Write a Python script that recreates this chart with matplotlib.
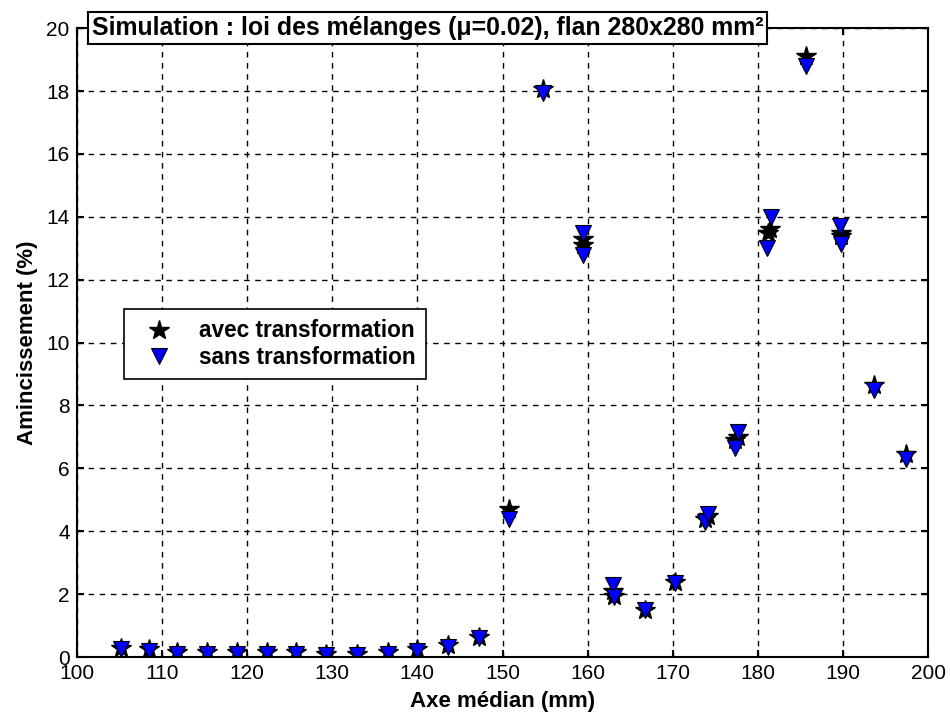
import matplotlib.pyplot as plt
import numpy as np

# star series: avec transformation
x_avec = [105.2, 108.5, 111.8, 115.3, 118.8, 122.3, 125.8, 129.3, 132.9, 136.5, 140.0, 143.6, 147.2,
          150.8, 154.8, 159.4, 159.5, 163.0, 163.1, 166.7, 170.2, 173.8, 174.1, 177.3, 177.6,
          181.2, 181.4, 185.6, 189.7, 189.8, 193.6, 197.4]
y_avec = [0.3, 0.25, 0.15, 0.15, 0.15, 0.15, 0.15, 0.1, 0.1, 0.15, 0.25, 0.38, 0.65,
          4.7, 18.05, 13.3, 13.1, 2.1, 1.95, 1.5, 2.4, 4.4, 4.5, 6.9, 7.0,
          13.5, 13.6, 19.1, 13.5, 13.4, 8.65, 6.45]

# triangle series: sans transformation
x_sans = [105.2, 108.5, 111.8, 115.3, 118.8, 122.3, 125.8, 129.3, 132.9, 136.5, 140.0, 143.6, 147.2,
          150.8, 154.8, 159.4, 159.5, 163.0, 163.1, 166.7, 170.2, 173.8, 174.1, 177.3, 177.6,
          181.0, 181.5, 185.6, 189.6, 189.8, 193.6, 197.4]
y_sans = [0.25, 0.2, 0.1, 0.1, 0.1, 0.1, 0.1, 0.05, 0.05, 0.1, 0.2, 0.33, 0.6,
          4.4, 17.95, 13.5, 12.8, 2.3, 1.9, 1.5, 2.35, 4.3, 4.55, 6.65, 7.15,
          13.0, 14.0, 18.8, 13.7, 13.15, 8.5, 6.3]

plt.rcParams.update({
    "font.family": ["Liberation Sans", "DejaVu Sans"],
    "font.weight": "bold",
    "axes.linewidth": 1.5,
    "xtick.direction": "in",
    "ytick.direction": "in",
    "xtick.top": True,
    "ytick.right": True,
    "xtick.major.size": 5,
    "ytick.major.size": 5,
    "xtick.major.width": 1.5,
    "ytick.major.width": 1.5,
})

fig = plt.figure(figsize=(9.5, 7.22), dpi=100)
ax = fig.add_axes([0.0807, 0.09, 0.8965, 0.871])

ax.plot(x_avec, y_avec, linestyle='none', marker='*', markersize=15, color='black',
        markeredgecolor='black', label='avec transformation')
ax.plot(x_sans, y_sans, linestyle='none', marker='v', markersize=11, color='#0000ff',
        markeredgecolor='black', markeredgewidth=0.8, label='sans transformation')

ax.set_xlim(100, 200)
ax.set_ylim(0, 20)
ax.set_xticks(np.arange(100, 201, 10))
ax.set_yticks(np.arange(0, 21, 2))
ax.tick_params(labelsize=15, pad=5)
for lab in ax.get_xticklabels() + ax.get_yticklabels():
    lab.set_fontweight('normal')
ax.grid(True, color='black', linestyle=(0, (4, 4)), linewidth=1.0)

ax.set_xlabel('Axe médian (mm)', fontsize=16, fontweight='bold', labelpad=6)
ax.set_ylabel('Amincissement (%)', fontsize=16, fontweight='bold', labelpad=6)

ax.text(0.018, 1.0, 'Simulation : loi des mélanges (μ=0.02), flan 280x280 mm²',
        transform=ax.transAxes, ha='left', va='center', fontsize=17.9, fontweight='bold',
        bbox=dict(boxstyle='square,pad=0.15', facecolor='white', edgecolor='black', linewidth=1.5),
        zorder=10)

leg = ax.legend(loc='upper left', bbox_to_anchor=(0.055, 0.553), fancybox=False,
                edgecolor='black', framealpha=1, prop={'size': 16.3, 'weight': 'bold'},
                borderpad=0.45, handletextpad=0.7, labelspacing=0.15, borderaxespad=0,
                handlelength=2.2)
leg.get_frame().set_linewidth(1.2)

fig.savefig('out.png', dpi=100)
